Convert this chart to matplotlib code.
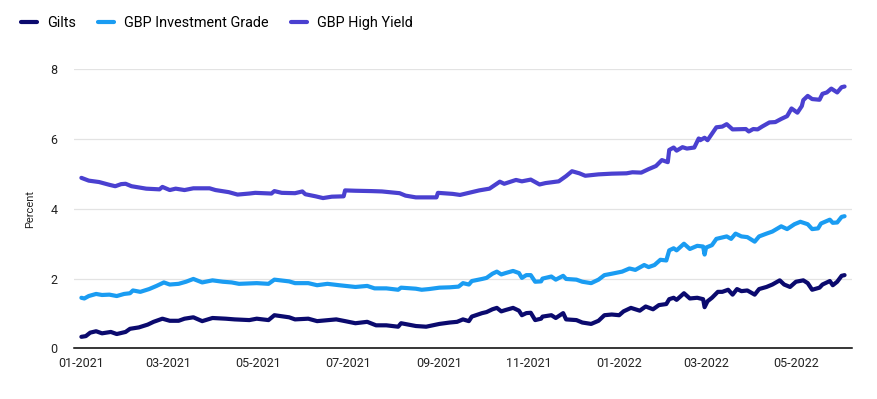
"""Gilts vs GBP investment grade vs GBP high yield yields, Jan 2021 - Jun 2022."""
from __future__ import annotations

import matplotlib

matplotlib.use("Agg")
import matplotlib.dates as mdates  # noqa: E402
import matplotlib.pyplot as plt  # noqa: E402
import pandas as pd  # noqa: E402

# Values (percent).
HY_DATES = [
    "2021-01-01", "2021-01-06", "2021-01-13", "2021-01-20", "2021-01-24", "2021-01-28",
    "2021-01-31", "2021-02-04", "2021-02-14", "2021-02-23", "2021-02-25", "2021-03-02",
    "2021-03-06", "2021-03-12", "2021-03-18", "2021-03-29", "2021-04-02", "2021-04-11",
    "2021-04-17", "2021-04-25", "2021-04-29", "2021-05-10", "2021-05-12", "2021-05-17",
    "2021-05-26", "2021-05-31", "2021-06-02", "2021-06-09", "2021-06-14", "2021-06-20",
    "2021-06-28", "2021-06-29", "2021-07-06", "2021-07-17", "2021-07-24", "2021-08-05",
    "2021-08-09", "2021-08-16", "2021-08-25", "2021-08-30", "2021-08-31", "2021-09-10",
    "2021-09-15", "2021-09-21", "2021-09-28", "2021-10-05", "2021-10-12", "2021-10-15",
    "2021-10-23", "2021-10-27", "2021-11-02", "2021-11-08", "2021-11-12", "2021-11-21",
    "2021-11-26", "2021-11-30", "2021-12-05", "2021-12-09", "2021-12-18", "2021-12-27",
    "2022-01-06", "2022-01-10", "2022-01-16", "2022-01-21", "2022-01-26", "2022-01-30",
    "2022-02-03", "2022-02-04", "2022-02-07", "2022-02-09", "2022-02-13", "2022-02-16",
    "2022-02-21", "2022-02-24", "2022-02-25", "2022-02-28", "2022-03-02", "2022-03-08",
    "2022-03-12", "2022-03-15", "2022-03-19", "2022-03-28", "2022-03-30", "2022-04-02",
    "2022-04-05", "2022-04-08", "2022-04-13", "2022-04-17", "2022-04-21", "2022-04-25",
    "2022-04-28", "2022-05-02", "2022-05-05", "2022-05-06", "2022-05-09", "2022-05-12",
    "2022-05-17", "2022-05-19", "2022-05-22", "2022-05-25", "2022-05-29", "2022-06-01",
    "2022-06-03",
]
HY_VALUES = [
    4.89, 4.81, 4.77, 4.69, 4.65, 4.71,
    4.72, 4.65, 4.58, 4.56, 4.63, 4.54,
    4.58, 4.54, 4.59, 4.59, 4.54, 4.48,
    4.41, 4.44, 4.46, 4.44, 4.51, 4.46,
    4.45, 4.50, 4.42, 4.36, 4.31, 4.35,
    4.36, 4.53, 4.52, 4.51, 4.50, 4.45,
    4.38, 4.33, 4.33, 4.33, 4.46, 4.43,
    4.40, 4.46, 4.53, 4.58, 4.78, 4.72,
    4.83, 4.79, 4.84, 4.70, 4.74, 4.79,
    4.94, 5.08, 5.02, 4.95, 4.99, 5.01,
    5.02, 5.05, 5.04, 5.14, 5.23, 5.40,
    5.34, 5.69, 5.76, 5.67, 5.77, 5.73,
    5.76, 6.02, 5.97, 6.04, 5.97, 6.34,
    6.36, 6.43, 6.28, 6.29, 6.22, 6.29,
    6.28, 6.36, 6.48, 6.49, 6.58, 6.66,
    6.88, 6.76, 6.95, 7.12, 7.24, 7.15,
    7.13, 7.30, 7.34, 7.45, 7.34, 7.49,
    7.51,
]

IG_DATES = [
    "2021-01-01", "2021-01-03", "2021-01-06", "2021-01-11", "2021-01-15", "2021-01-20",
    "2021-01-25", "2021-01-30", "2021-02-03", "2021-02-05", "2021-02-10", "2021-02-16",
    "2021-02-21", "2021-02-26", "2021-03-02", "2021-03-08", "2021-03-13", "2021-03-18",
    "2021-03-24", "2021-03-31", "2021-04-07", "2021-04-13", "2021-04-18", "2021-04-30",
    "2021-05-08", "2021-05-12", "2021-05-22", "2021-05-26", "2021-06-04", "2021-06-10",
    "2021-06-17", "2021-06-25", "2021-07-06", "2021-07-14", "2021-07-19", "2021-07-27",
    "2021-08-04", "2021-08-06", "2021-08-16", "2021-08-20", "2021-08-25", "2021-09-01",
    "2021-09-08", "2021-09-14", "2021-09-17", "2021-09-21", "2021-09-23", "2021-09-30",
    "2021-10-03", "2021-10-07", "2021-10-10", "2021-10-13", "2021-10-16", "2021-10-21",
    "2021-10-25", "2021-10-27", "2021-10-30", "2021-11-02", "2021-11-05", "2021-11-09",
    "2021-11-10", "2021-11-16", "2021-11-19", "2021-11-24", "2021-11-26", "2021-12-03",
    "2021-12-07", "2021-12-13", "2021-12-18", "2021-12-22", "2021-12-27", "2022-01-03",
    "2022-01-08", "2022-01-12", "2022-01-18", "2022-01-21", "2022-01-25", "2022-01-29",
    "2022-02-02", "2022-02-04", "2022-02-07", "2022-02-09", "2022-02-14", "2022-02-18",
    "2022-02-23", "2022-02-27", "2022-02-28", "2022-03-01", "2022-03-05", "2022-03-08",
    "2022-03-11", "2022-03-15", "2022-03-18", "2022-03-21", "2022-03-25", "2022-03-29",
    "2022-04-03", "2022-04-06", "2022-04-11", "2022-04-15", "2022-04-21", "2022-04-25",
    "2022-04-30", "2022-05-04", "2022-05-09", "2022-05-12", "2022-05-16", "2022-05-18",
    "2022-05-24", "2022-05-26", "2022-05-29", "2022-06-01", "2022-06-03",
]
IG_VALUES = [
    1.45, 1.43, 1.50, 1.56, 1.53, 1.54,
    1.50, 1.56, 1.58, 1.66, 1.62, 1.70,
    1.79, 1.89, 1.83, 1.85, 1.91, 1.99,
    1.89, 1.95, 1.91, 1.89, 1.85, 1.87,
    1.85, 1.97, 1.92, 1.87, 1.87, 1.81,
    1.85, 1.81, 1.76, 1.79, 1.72, 1.72,
    1.68, 1.74, 1.71, 1.68, 1.70, 1.74,
    1.75, 1.77, 1.87, 1.83, 1.93, 1.99,
    2.02, 2.14, 2.20, 2.12, 2.16, 2.22,
    2.16, 2.02, 2.10, 2.10, 1.91, 1.92,
    2.00, 2.06, 1.97, 2.08, 1.99, 1.97,
    1.91, 1.87, 1.97, 2.10, 2.14, 2.20,
    2.29, 2.25, 2.39, 2.33, 2.39, 2.54,
    2.52, 2.81, 2.87, 2.81, 3.00, 2.85,
    2.94, 2.92, 2.69, 2.89, 2.96, 3.14,
    3.17, 3.21, 3.14, 3.29, 3.21, 3.19,
    3.06, 3.21, 3.29, 3.35, 3.50, 3.42,
    3.56, 3.63, 3.56, 3.42, 3.44, 3.58,
    3.69, 3.60, 3.61, 3.77, 3.79,
]

GILTS_DATES = [
    "2021-01-01", "2021-01-04", "2021-01-07", "2021-01-11", "2021-01-15", "2021-01-21",
    "2021-01-25", "2021-01-31", "2021-02-03", "2021-02-09", "2021-02-15", "2021-02-19",
    "2021-02-25", "2021-03-02", "2021-03-08", "2021-03-12", "2021-03-18", "2021-03-24",
    "2021-03-31", "2021-04-09", "2021-04-15", "2021-04-25", "2021-04-30", "2021-05-08",
    "2021-05-12", "2021-05-22", "2021-05-26", "2021-06-04", "2021-06-10", "2021-06-23",
    "2021-06-29", "2021-07-06", "2021-07-14", "2021-07-20", "2021-07-27", "2021-08-04",
    "2021-08-06", "2021-08-16", "2021-08-23", "2021-09-01", "2021-09-08", "2021-09-13",
    "2021-09-17", "2021-09-21", "2021-09-23", "2021-09-30", "2021-10-03", "2021-10-07",
    "2021-10-10", "2021-10-13", "2021-10-16", "2021-10-21", "2021-10-25", "2021-10-27",
    "2021-10-30", "2021-11-02", "2021-11-05", "2021-11-09", "2021-11-10", "2021-11-16",
    "2021-11-19", "2021-11-24", "2021-11-26", "2021-12-03", "2021-12-07", "2021-12-13",
    "2021-12-18", "2021-12-22", "2021-12-27", "2022-01-01", "2022-01-04", "2022-01-09",
    "2022-01-15", "2022-01-19", "2022-01-24", "2022-01-28", "2022-02-02", "2022-02-04",
    "2022-02-07", "2022-02-09", "2022-02-14", "2022-02-18", "2022-02-23", "2022-02-27",
    "2022-02-28", "2022-03-02", "2022-03-05", "2022-03-09", "2022-03-12", "2022-03-16",
    "2022-03-19", "2022-03-22", "2022-03-25", "2022-03-29", "2022-04-03", "2022-04-06",
    "2022-04-11", "2022-04-15", "2022-04-20", "2022-04-23", "2022-04-27", "2022-05-01",
    "2022-05-06", "2022-05-09", "2022-05-12", "2022-05-17", "2022-05-19", "2022-05-24",
    "2022-05-26", "2022-05-29", "2022-06-01", "2022-06-03",
]
GILTS_VALUES = [
    0.33, 0.35, 0.45, 0.49, 0.43, 0.47,
    0.41, 0.47, 0.56, 0.60, 0.68, 0.76,
    0.85, 0.79, 0.79, 0.85, 0.89, 0.78,
    0.87, 0.85, 0.83, 0.81, 0.85, 0.81,
    0.95, 0.89, 0.83, 0.85, 0.78, 0.83,
    0.78, 0.72, 0.76, 0.66, 0.66, 0.62,
    0.72, 0.64, 0.62, 0.70, 0.74, 0.76,
    0.83, 0.78, 0.91, 1.01, 1.04, 1.12,
    1.16, 1.06, 1.10, 1.16, 1.08, 0.95,
    1.01, 1.02, 0.81, 0.85, 0.91, 0.95,
    0.87, 1.01, 0.83, 0.81, 0.74, 0.70,
    0.79, 0.95, 0.97, 0.95, 1.06, 1.16,
    1.08, 1.20, 1.12, 1.24, 1.27, 1.41,
    1.45, 1.39, 1.58, 1.43, 1.45, 1.41,
    1.18, 1.35, 1.45, 1.62, 1.62, 1.68,
    1.54, 1.70, 1.64, 1.66, 1.54, 1.70,
    1.76, 1.83, 1.95, 1.83, 1.76, 1.91,
    1.95, 1.87, 1.68, 1.74, 1.83, 1.93,
    1.81, 1.91, 2.08, 2.10,
]

SERIES = [
    ("Gilts", GILTS_DATES, GILTS_VALUES, "#0b0a6e"),
    ("GBP Investment Grade", IG_DATES, IG_VALUES, "#1a9cf2"),
    ("GBP High Yield", HY_DATES, HY_VALUES, "#4a40d0"),
]
Y_TICKS = [0, 2, 4, 6, 8]


def main() -> None:
    plt.rcParams["font.family"] = ["Roboto", "DejaVu Sans"]

    fig = plt.figure(figsize=(8.78, 3.99), dpi=100)
    ax = fig.add_axes([0.0843, 0.127, 0.886, 0.699])

    for name, dates, values, color in SERIES:
        ax.plot(pd.to_datetime(dates), values, color=color, linewidth=2.1,
                solid_joinstyle="round", solid_capstyle="round", label=name)

    ax.set_ylim(0, 8)
    ax.set_yticks(Y_TICKS)
    ax.set_xlim(pd.Timestamp("2020-12-27"), pd.Timestamp("2022-06-08"))
    ax.xaxis.set_major_locator(mdates.MonthLocator(bymonth=[1, 3, 5, 7, 9, 11]))
    ax.xaxis.set_major_formatter(mdates.DateFormatter("%m-%Y"))

    ax.grid(axis="y", color="#e3e3e3", linewidth=0.9)
    ax.set_axisbelow(True)
    for side in ("left", "right", "top"):
        ax.spines[side].set_visible(False)
    ax.spines["bottom"].set_color("black")
    ax.spines["bottom"].set_linewidth(1.1)
    ax.tick_params(axis="both", length=0, labelsize=9, labelcolor="#222222")
    ax.tick_params(axis="y", pad=12)
    ax.tick_params(axis="x", pad=6)
    ax.set_ylabel("Percent", fontsize=8, color="#222222", labelpad=11)

    handles, labels = ax.get_legend_handles_labels()
    for h in handles:
        h.set_linewidth(3.0)
    fig.legend(handles, labels, loc="center left", bbox_to_anchor=(0.024, 0.942),
               ncol=3, frameon=False, fontsize=10.4, handlelength=1.1,
               handletextpad=0.7, columnspacing=1.55, borderpad=0, borderaxespad=0)

    fig.savefig("out.png", dpi=100)
    plt.close(fig)


if __name__ == "__main__":
    main()
